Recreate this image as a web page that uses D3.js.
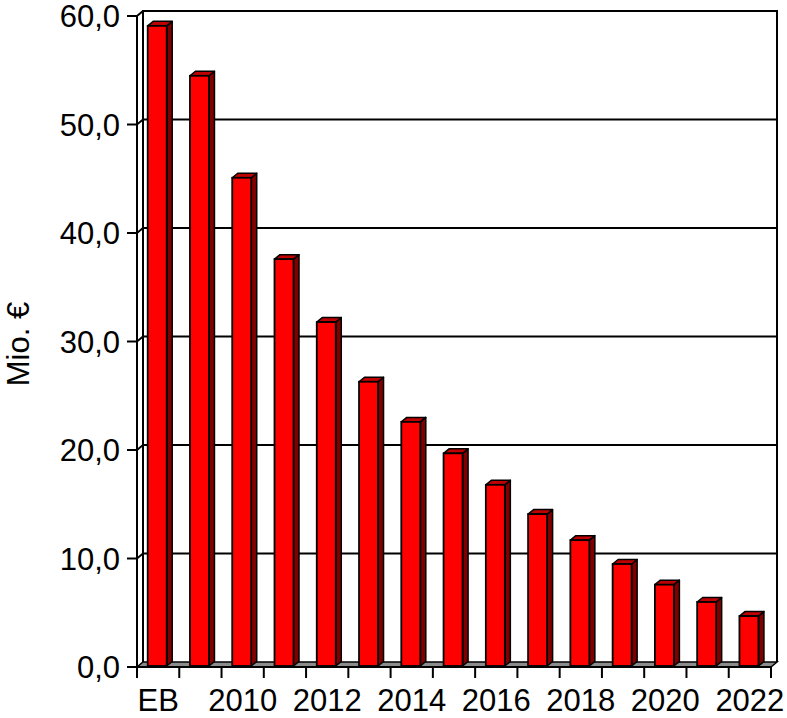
<!DOCTYPE html>
<html><head><meta charset="utf-8">
<script src="https://cdn.jsdelivr.net/npm/d3@7"></script>
<style>body{margin:0;background:#fff}svg{display:block}</style>
</head><body>
<script>
const categories = ["EB","2009","2010","2011","2012","2013","2014","2015","2016","2017","2018","2019","2020","2021","2022"];
const values = [59.0, 54.4, 45.0, 37.5, 31.7, 26.2, 22.5, 19.6, 16.7, 14.0, 11.6, 9.4, 7.5, 5.9, 4.6];
const yTicks = [0, 10, 20, 30, 40, 50, 60];
const xLabels = ["EB","2010","2012","2014","2016","2018","2020","2022"];
const yTitle = "Mio. €";

const W = 787, H = 718;
const svg = d3.select("body").append("svg").attr("width", W).attr("height", H);

const x0 = 137, x1 = 771, yBot = 667, yTop = 16;
const dx = 6, dy = -5;      // wall depth
const bdx = 5.5, bdy = -4.5; // bar depth
const font = "'Liberation Sans', Arial, sans-serif";
const fs = 31;

const x = d3.scaleBand().domain(categories).range([x0, x1]).paddingInner(0).paddingOuter(0);
const y = d3.scaleLinear().domain([0, 60]).range([yBot, yTop]);

const line = (pts) => "M" + pts.map(p => p.join(",")).join("L");

// Back wall border
svg.append("path")
  .attr("d", line([[x0 + dx, y(0) + dy], [x0 + dx, y(60) + dy], [x1 + dx, y(60) + dy], [x1 + dx, y(0) + dy]]))
  .attr("fill", "none").attr("stroke", "#000").attr("stroke-width", 2);

// Gridlines (back wall + left wall diagonal)
yTicks.filter(v => v > 0 && v < 60).forEach(v => {
  svg.append("path")
    .attr("d", line([[x0, y(v)], [x0 + dx, y(v) + dy], [x1 + dx, y(v) + dy]]))
    .attr("fill", "none").attr("stroke", "#000").attr("stroke-width", 1.8);
});
svg.append("path")
  .attr("d", line([[x0, y(60)], [x0 + dx, y(60) + dy]]))
  .attr("fill", "none").attr("stroke", "#000").attr("stroke-width", 2);

// Floor
svg.append("path")
  .attr("d", line([[x0, y(0)], [x1, y(0)], [x1 + dx, y(0) + dy], [x0 + dx, y(0) + dy]]) + "Z")
  .attr("fill", "#8c8c8c").attr("stroke", "#000").attr("stroke-width", 1.5);

// Bars
const bw = 19, off = 10.7;
const yb0 = 666;
const ys = v => yb0 - (yBot - y(v));
const bars = svg.append("g");
categories.forEach((c, i) => {
  const v = values[i];
  const L = x(c) + off, R = L + bw, T = ys(v), B = yb0;
  bars.append("path")
    .attr("d", line([[R, B], [R, T], [R + bdx, T + bdy], [R + bdx, B + bdy]]) + "Z")
    .attr("fill", "#800000").attr("stroke", "#000").attr("stroke-width", 1.5).attr("stroke-linejoin", "round");
  bars.append("path")
    .attr("d", line([[L, T], [R, T], [R + bdx, T + bdy], [L + bdx, T + bdy]]) + "Z")
    .attr("fill", "#c00000").attr("stroke", "#000").attr("stroke-width", 1.5).attr("stroke-linejoin", "round");
  bars.append("rect")
    .attr("x", L).attr("y", T).attr("width", bw).attr("height", B - T)
    .attr("fill", "#ff0000").attr("stroke", "#000").attr("stroke-width", 1.8);
});

// Front axes
svg.append("line").attr("x1", x0).attr("x2", x0).attr("y1", y(60)).attr("y2", y(0))
  .attr("stroke", "#000").attr("stroke-width", 2);
svg.append("line").attr("x1", x0).attr("x2", x1).attr("y1", y(0)).attr("y2", y(0))
  .attr("stroke", "#000").attr("stroke-width", 2);

// Y ticks + labels
yTicks.forEach(v => {
  svg.append("line").attr("x1", x0 - 10).attr("x2", x0).attr("y1", y(v)).attr("y2", y(v))
    .attr("stroke", "#000").attr("stroke-width", 2);
  svg.append("text")
    .attr("x", x0 - 17).attr("y", y(v) + 11)
    .attr("text-anchor", "end").attr("font-family", font).attr("font-size", fs).attr("fill", "#000")
    .text(v.toFixed(1).replace(".", ","));
});

// X ticks at band boundaries
d3.range(categories.length + 1).forEach(i => {
  const xt = x0 + i * x.bandwidth();
  svg.append("line").attr("x1", xt).attr("x2", xt).attr("y1", y(0)).attr("y2", y(0) + 11)
    .attr("stroke", "#000").attr("stroke-width", 2);
});
xLabels.forEach(lab => {
  const xc = x(lab) + x.bandwidth() / 2;
  svg.append("text")
    .attr("x", xc).attr("y", 711)
    .attr("text-anchor", "middle").attr("font-family", font).attr("font-size", fs).attr("fill", "#000")
    .text(lab);
});

// Y title
svg.append("text")
  .attr("transform", `translate(29,344) rotate(-90)`)
  .attr("text-anchor", "middle").attr("font-family", font).attr("font-size", fs).attr("fill", "#000")
  .text(yTitle);
</script>
</body></html>
